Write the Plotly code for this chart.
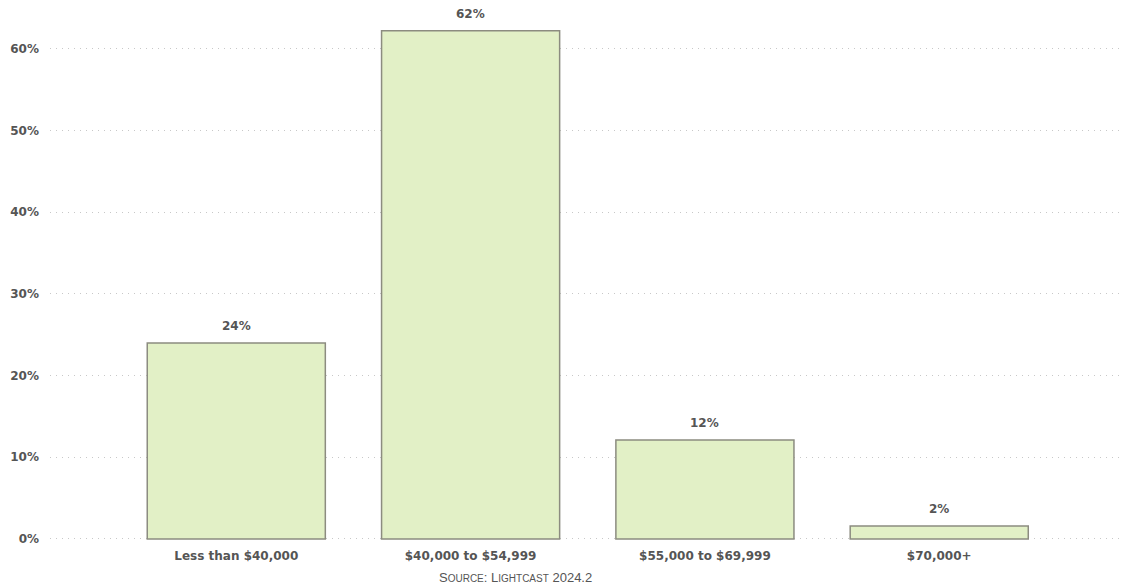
import plotly.graph_objects as go

categories = ["Less than $40,000", "$40,000 to $54,999", "$55,000 to $69,999", "$70,000+"]
values = [24.0, 62.2, 12.1, 1.6]
labels = ["24%", "62%", "12%", "2%"]
y_ticks = [0, 10, 20, 30, 40, 50, 60]
y_tick_text = ["0%", "10%", "20%", "30%", "40%", "50%", "60%"]

FONT = "DejaVu Sans"
fig = go.Figure()
fig.add_trace(go.Bar(
    x=categories, y=values,
    cliponaxis=False, width=0.76,
    marker=dict(color="#e2f0c6", line=dict(color="#8c8c80", width=1.5)),
    hoverinfo="skip",
))

annotations = [dict(
    x=c, y=v, text=t, showarrow=False, xanchor="center", yanchor="bottom", yshift=8,
    font=dict(family=FONT, size=12, color="#555555", weight="bold"),
) for c, v, t in zip(categories, values, labels)]

annotations.append(dict(
    xref="paper", yref="paper", x=0.434, y=-0.068, showarrow=False,
    xanchor="center", yanchor="middle",
    text="S<span style='font-size:10px'>OURCE</span>: L<span style='font-size:10px'>IGHTCAST</span> 2024.2",
    font=dict(family="Liberation Sans", size=13, color="#555555"),
))

fig.update_layout(
    width=1123, height=588,
    margin=dict(l=50, r=1, t=8, b=47),
    plot_bgcolor="white", paper_bgcolor="white",
    showlegend=False,
    xaxis=dict(range=[-0.795, 3.78], showgrid=False, showline=False, ticks="",
               ticklabelstandoff=6,
               tickfont=dict(family=FONT, size=12, color="#555555", weight="bold")),
    yaxis=dict(range=[-0.25, 65], tickvals=y_ticks, ticktext=y_tick_text,
               showgrid=True, gridcolor="#c8c8c8", griddash="1px,5px", gridwidth=1,
               zeroline=False, showline=False, ticks="", ticklabelstandoff=10,
               tickfont=dict(family=FONT, size=12, color="#555555", weight="bold")),
    annotations=annotations,
)

fig.write_html("out.html")
